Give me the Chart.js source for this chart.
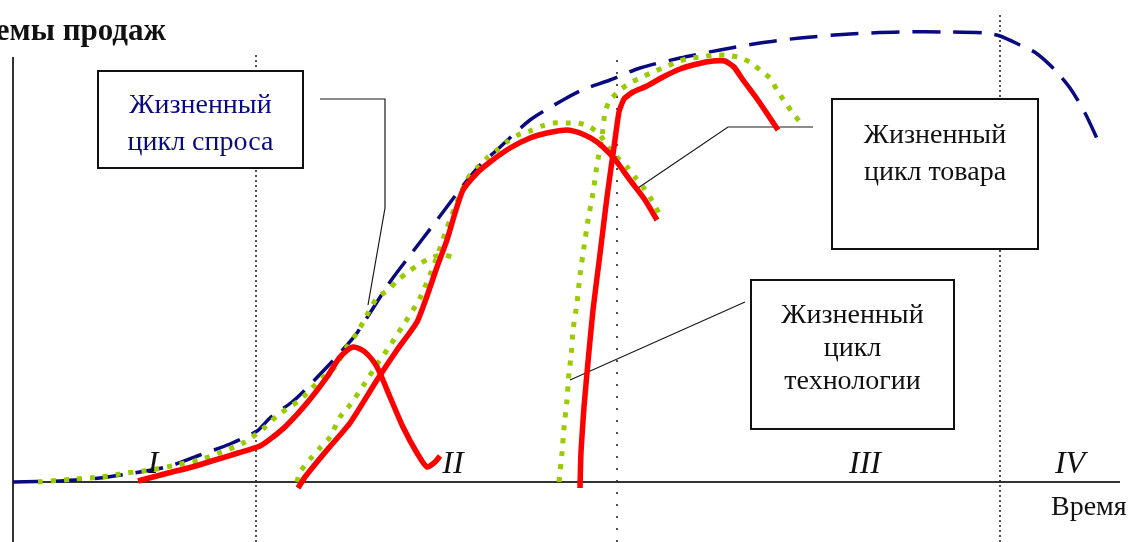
<!DOCTYPE html>
<html lang="ru">
<head>
<meta charset="utf-8">
<title>Жизненные циклы спроса, технологии и товара</title>
<script src="https://cdn.jsdelivr.net/npm/chart.js@4.4.1/dist/chart.umd.min.js"></script>
<style>
	html, body { margin: 0; padding: 0; background: #fff; }
	#wrap { width: 1131px; height: 542px; }
</style>
</head>
<body>
<div id="wrap"><canvas id="cycles" width="1131" height="542"></canvas></div>
<script>
// Time (t) and sales volume (v), arbitrary units
const demandT = [0, 47, 87, 127, 157, 187, 217, 244, 257, 279, 290, 314, 334, 344, 377, 395, 424, 452, 469, 484, 517, 550, 569, 597, 627, 667, 707, 747, 787, 837, 887, 937, 972, 987, 1007, 1023, 1042, 1057, 1072, 1087];
const demandV = [0, 1, 4, 10, 16, 27, 38, 51, 64, 80, 90, 115, 137, 149, 200, 224, 262, 299, 319, 332, 362, 382, 392, 402, 414, 424, 432, 439, 444, 448, 450, 450, 449, 446, 437, 429, 412, 394, 369, 337];

const tech1T = [25, 62, 88, 113, 138, 163, 186, 209, 232, 251, 265, 287, 299, 310, 322, 335, 344, 354, 364, 375, 385, 395, 405, 417, 430, 442];
const tech1V = [0, 3, 5, 9, 12, 17, 22, 30, 40, 54, 67, 82, 94, 105, 115, 137, 149, 167, 184, 192, 202, 210, 217, 224, 227, 224];

const tech2T = [284, 287, 299, 307, 317, 327, 337, 352, 365, 374, 389, 407, 422, 434, 444, 455, 464, 474, 484, 494, 505, 517, 529, 540, 554, 565, 577, 587, 595, 604, 614, 622, 630, 637, 647];
const tech2V = [0, 10, 25, 34, 45, 65, 77, 99, 119, 132, 155, 184, 220, 254, 280, 304, 314, 324, 332, 340, 347, 351, 356, 359, 359, 359, 355, 347, 335, 325, 315, 305, 295, 285, 267];

const tech3T = [546, 549, 551, 554, 556, 558, 560, 564, 567, 571, 575, 580, 584, 589, 592, 597, 607, 617, 629, 640, 652, 664, 677, 689, 700, 712, 725, 737, 747, 757, 764, 772, 779, 787];
const tech3V = [0, 29, 54, 82, 110, 125, 152, 179, 207, 235, 262, 289, 317, 345, 370, 382, 392, 399, 405, 410, 415, 420, 424, 425, 427, 427, 425, 420, 412, 404, 392, 380, 370, 360];

const product1T = [125, 140, 159, 179, 202, 225, 247, 260, 274, 294, 314, 327, 340, 352, 364, 377, 390, 404, 414, 422, 427];
const product1V = [1, 5, 10, 15, 22, 29, 36, 45, 57, 79, 105, 125, 135, 130, 115, 85, 55, 29, 15, 20, 26];

const product2T = [285, 292, 314, 337, 364, 384, 404, 414, 424, 434, 442, 450, 464, 477, 497, 517, 534, 554, 567, 584, 600, 617, 632, 644];
const product2V = [-6, 5, 32, 59, 102, 132, 160, 186, 215, 242, 269, 292, 309, 320, 334, 344, 349, 352, 349, 340, 325, 302, 282, 262];

const product3T = [567, 568, 571, 575, 580, 587, 594, 601, 606, 611, 620, 634, 650, 667, 684, 700, 712, 721, 730, 742, 753, 765];
const product3V = [-6, 30, 75, 120, 172, 228, 285, 335, 370, 383, 390, 396, 405, 413, 418, 421, 421, 415, 402, 386, 370, 352];

// Stage boundaries and labels
const stageT      = [243, 604, 987];
const stageTopV   = [427, 427, 470];
const stageLabels = ['I', 'II', 'III', 'IV'];
const stageLabelT = [140, 440, 852, 1057];

// Callout leader lines
const leaderDemandT  = [307, 372, 372, 355];
const leaderDemandV  = [383, 383, 274, 177];
const leaderProductT = [800, 715, 625];
const leaderProductV = [355, 355, 294];
const leaderTechT    = [732, 557];
const leaderTechV    = [180, 102];

const pts = (ts, vs) => ts.map((t, i) => ({ x: t, y: vs[i] }));

const NAVY  = '#0a0a80';
const GREEN = '#99cc00';
const RED   = '#ff0000';
const INK   = '#1a1a1a';

function curve(data, color, width, dash, order, tension = 0.25) {
	return {
		data, showLine: true, borderColor: color, borderWidth: width,
		borderDash: dash, pointRadius: 0, tension, order,
		borderCapStyle: 'butt', fill: false
	};
}
function rule(data, color, width, dash, order) {
	return curve(data, color, width, dash, order, 0);
}

const datasets = [
	rule(pts([0, 0], [-60, 425]), '#333', 2, [], 5),
	rule(pts([0, 1107], [0, 0]), '#333', 2, [], 5),
	rule(pts([stageT[0], stageT[0]], [-60, stageTopV[0]]), INK, 1.5, [2, 3], 6),
	rule(pts([stageT[1], stageT[1]], [-60, stageTopV[1]]), INK, 1.5, [2, 10], 6),
	rule(pts([stageT[2], stageT[2]], [-60, stageTopV[2]]), INK, 1.5, [2, 3], 6),
	rule(pts(leaderDemandT, leaderDemandV), INK, 1.2, [], 4),
	rule(pts(leaderProductT, leaderProductV), INK, 1.2, [], 4),
	rule(pts(leaderTechT, leaderTechV), INK, 1.2, [], 4),
	curve(pts(demandT, demandV), NAVY, 3.5, [28, 13], 3),
	curve(pts(tech1T, tech1V), GREEN, 5, [5, 8], 2),
	curve(pts(tech2T, tech2V), GREEN, 5, [5, 8], 2),
	curve(pts(tech3T, tech3V), GREEN, 5, [5, 8], 2, 0.15),
	curve(pts(product1T, product1V), RED, 5.5, [], 1),
	curve(pts(product2T, product2V), RED, 5.5, [], 1, 0.2),
	curve(pts(product3T, product3V), RED, 5.5, [], 1, 0.15),
];

// Callout boxes: extents in chart units, text baselines in px from box top
const BOXES = [
	{ t0: 85,  t1: 290, v0: 411, v1: 314, color: NAVY, lines: ['Жизненный', 'цикл спроса'], first: 42, step: 37 },
	{ t0: 819, t1: 1025, v0: 383, v1: 233, color: '#111', lines: ['Жизненный', 'цикл товара'], first: 44, step: 37 },
	{ t0: 738, t1: 941, v0: 202, v1: 53,  color: '#111', lines: ['Жизненный', 'цикл', 'технологии'], first: 43, step: 33 },
];
const SERIF = '"Liberation Serif", "DejaVu Serif", serif';

const annotations = {
	id: 'annotations',
	afterDatasetsDraw(chart) {
		const { ctx, scales: { x, y } } = chart;
		ctx.save();

		BOXES.forEach(b => {
			const l = x.getPixelForValue(b.t0), r = x.getPixelForValue(b.t1);
			const top = y.getPixelForValue(b.v0), btm = y.getPixelForValue(b.v1);
			ctx.fillStyle = '#fff';
			ctx.fillRect(l, top, r - l, btm - top);
			ctx.strokeStyle = '#111';
			ctx.lineWidth = 2;
			ctx.strokeRect(l, top, r - l, btm - top);
			ctx.fillStyle = b.color;
			ctx.font = '28px ' + SERIF;
			ctx.textAlign = 'center';
			ctx.textBaseline = 'alphabetic';
			b.lines.forEach((s, i) => ctx.fillText(s, (l + r) / 2, top + b.first + i * b.step));
		});

		// stage numerals
		ctx.fillStyle = '#111';
		ctx.font = 'italic 32px ' + SERIF;
		ctx.textAlign = 'center';
		stageLabels.forEach((s, i) => ctx.fillText(s, x.getPixelForValue(stageLabelT[i]), y.getPixelForValue(9)));

		// axis titles
		ctx.font = '28px ' + SERIF;
		ctx.textAlign = 'left';
		ctx.fillText('Время', x.getPixelForValue(1038), y.getPixelForValue(-33));
		ctx.font = 'bold 31px ' + SERIF;
		ctx.textAlign = 'right';
		ctx.fillText('Объемы продаж', x.getPixelForValue(153), y.getPixelForValue(442));

		ctx.restore();
	}
};

new Chart(document.getElementById('cycles'), {
	type: 'scatter',
	data: { datasets },
	options: {
		responsive: false,
		animation: false,
		events: [],
		layout: { padding: 0 },
		plugins: { legend: { display: false }, tooltip: { enabled: false } },
		scales: {
			x: { type: 'linear', min: -13, max: 1118, display: false },
			y: { type: 'linear', min: -60, max: 482, display: false }
		}
	},
	plugins: [annotations]
});
</script>
</body>
</html>
